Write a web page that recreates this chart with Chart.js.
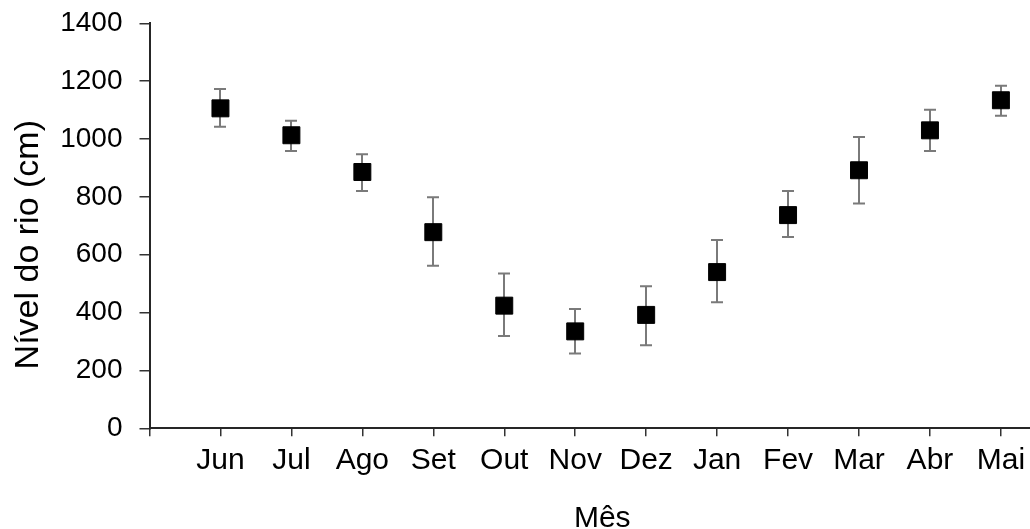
<!DOCTYPE html>
<html>
<head>
<meta charset="utf-8">
<script src="https://cdn.jsdelivr.net/npm/chart.js@4/dist/chart.umd.min.js"></script>
<style>
  html, body { margin: 0; padding: 0; background: #ffffff; }
  #wrap { width: 1030px; height: 529px; }
</style>
</head>
<body>
<div id="wrap"><canvas id="c" width="1030" height="529"></canvas></div>
<script>
// ---- data ----
const months = ['Jun', 'Jul', 'Ago', 'Set', 'Out', 'Nov', 'Dez', 'Jan', 'Fev', 'Mar', 'Abr', 'Mai'];
const meanLevel = [1106, 1013, 886, 678, 424, 335, 392, 540, 737, 892, 1030, 1134];
const upperLevel = [1173, 1063, 947, 799, 535, 412, 491, 651, 820, 1007, 1101, 1184];
const lowerLevel = [1042, 959, 820, 562, 319, 259, 287, 436, 661, 777, 959, 1080];
const yTicks = [0, 200, 400, 600, 800, 1000, 1200, 1400];
const yTitle = 'Nível do rio (cm)';
const xTitle = 'Mês';

const FONT = "'Liberation Sans', Arial, sans-serif";

const points = months.map((m, i) => ({ x: i + 1, y: meanLevel[i] }));

const errorBars = {
  id: 'errorBars',
  beforeDatasetsDraw(chart) {
    const { ctx, scales: { x, y } } = chart;
    ctx.save();
    ctx.strokeStyle = '#7a7a7a';
    ctx.lineWidth = 2;
    const cap = 6;
    months.forEach((m, i) => {
      const px = Math.round(x.getPixelForValue(i + 1));
      const top = y.getPixelForValue(upperLevel[i]);
      const bot = y.getPixelForValue(lowerLevel[i]);
      ctx.beginPath();
      ctx.moveTo(px, top); ctx.lineTo(px, bot);
      ctx.moveTo(px - cap, top); ctx.lineTo(px + cap, top);
      ctx.moveTo(px - cap, bot); ctx.lineTo(px + cap, bot);
      ctx.stroke();
    });
    ctx.restore();
  }
};

new Chart(document.getElementById('c'), {
  type: 'scatter',
  data: {
    datasets: [{
      data: points,
      pointStyle: 'rect',
      pointRadius: 12,
      pointHoverRadius: 12,
      backgroundColor: '#000000',
      borderColor: '#000000',
      borderWidth: 1,
      clip: false
    }]
  },
  options: {
    responsive: false,
    animation: false,
    devicePixelRatio: 1,
    layout: { autoPadding: false, padding: { left: 0, top: 23.3, right: 0, bottom: 0 } },
    plugins: { legend: { display: false }, tooltip: { enabled: false } },
    scales: {
      x: {
        type: 'linear',
        min: 0,
        max: 12.41,
        afterBuildTicks(scale) {
          scale.ticks = [0].concat(months.map((m, i) => i + 1)).map(v => ({ value: v }));
        },
        afterFit(scale) { scale.height = 100.7; scale.paddingLeft = 0; scale.paddingRight = 0; },
        grid: { display: true, drawOnChartArea: false, drawTicks: true, tickLength: 8, color: '#333333', lineWidth: 1.5 },
        border: { display: true, color: '#262626', width: 2 },
        ticks: {
          autoSkip: false,
          maxRotation: 0,
          padding: 6,
          color: '#000000',
          font: { family: FONT, size: 30 },
          callback: (v) => (v >= 1 && v <= months.length) ? months[v - 1] : ''
        },
        title: {
          display: true,
          text: '\u00a0\u00a0\u00a0' + xTitle,
          color: '#000000',
          font: { family: FONT, size: 30, lineHeight: 0.67 },
          padding: { top: 0, bottom: 0 }
        }
      },
      y: {
        type: 'linear',
        min: 0,
        max: 1400,
        afterBuildTicks(scale) {
          scale.ticks = yTicks.map(v => ({ value: v }));
        },
        afterFit(scale) { scale.width = 149.5; scale.paddingTop = 0; scale.paddingBottom = 0; },
        grid: { display: true, drawOnChartArea: false, drawTicks: true, tickLength: 10, color: '#333333', lineWidth: 1.5 },
        border: { display: true, color: '#262626', width: 2 },
        ticks: {
          padding: 17,
          color: '#000000',
          font: { family: FONT, size: 28 },
          callback: (v) => String(v)
        },
        title: {
          display: true,
          text: yTitle + '\u00a0\u00a0\u00a0\u00a0',
          color: '#000000',
          font: { family: FONT, size: 34, lineHeight: 1.2 },
          padding: { top: 8, bottom: 0 }
        }
      }
    }
  },
  plugins: [errorBars]
});
</script>
</body>
</html>
